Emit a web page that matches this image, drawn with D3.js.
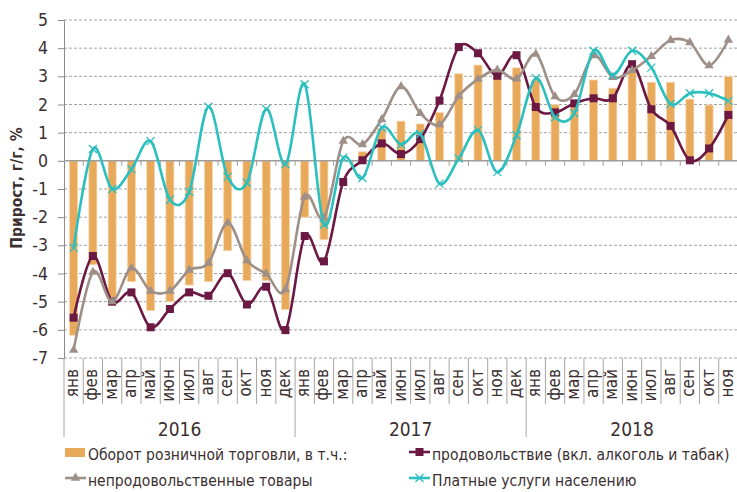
<!DOCTYPE html>
<html>
<head>
<meta charset="utf-8">
<title>Прирост, г/г</title>
<script src="https://cdn.jsdelivr.net/npm/d3@7"></script>
<style>
  body { margin: 0; background: #fff; }
  text { font-family: "DejaVu Sans", sans-serif; font-stretch: condensed; fill: #3b2f31; }
</style>
</head>
<body>
<script>
  let width = 737;
  let height = 492;

  let monthNames = ['янв', 'фев', 'мар', 'апр', 'май', 'июн', 'июл', 'авг', 'сен', 'окт', 'ноя', 'дек'];
  let years = ['2016', '2017', '2018'];
  let months = monthNames.concat(monthNames, monthNames.slice(0, 11));
  let yTicks = [-7, -6, -5, -4, -3, -2, -1, 0, 1, 2, 3, 4, 5];

  // оборот розничной торговли
  let retail = [-6.19, -3.69, -4.95, -4.29, -5.31, -5.0, -4.41, -4.29, -3.19, -4.25, -4.25, -5.28,
                -2.0, -2.8, 0.0, 0.32, 1.15, 1.41, 1.31, 1.71, 3.09, 3.40, 2.93, 3.30,
                2.87, 1.99, 2.08, 2.87, 2.58, 3.22, 2.79, 2.79, 2.19, 1.98, 2.99];
  // продовольствие
  let food = [-5.57, -3.38, -5.0, -4.67, -5.91, -5.26, -4.67, -4.79, -3.99, -5.1, -4.47, -6.01,
              -2.67, -3.57, -0.75, 0.02, 0.62, 0.24, 0.77, 2.14, 4.04, 3.82, 3.02, 3.75,
              1.91, 1.72, 2.04, 2.22, 2.22, 3.43, 1.83, 1.24, 0.02, 0.44, 1.63];
  // непродовольственные товары
  let nonfood = [-6.72, -3.95, -5.0, -3.81, -4.62, -4.62, -3.88, -3.63, -2.2, -3.54, -4.01, -4.57,
                 -1.28, -2.03, 0.70, 0.58, 1.47, 2.64, 1.69, 1.29, 2.30, 2.90, 3.23, 2.91,
                 3.79, 2.28, 2.36, 3.74, 2.97, 3.21, 3.71, 4.28, 4.20, 3.38, 4.29];
  // платные услуги
  let services = [-3.09, 0.42, -1.0, -0.3, 0.70, -1.38, -1.1, 1.92, -0.57, -0.78, 1.84, -0.12,
                  2.72, -2.26, 0.11, -0.61, 1.18, 0.58, 0.95, -0.81, 0.08, 1.09, -0.40, 0.91,
                  2.93, 1.55, 1.69, 3.91, 3.05, 3.91, 3.31, 2.02, 2.40, 2.40, 2.13];

  let cOrange = '#e9a95a';
  let cFood = '#6b1843';
  let cNonfood = '#9e9088';
  let cServ = '#2bbfbf';
  let cGrid = '#a3a3a3';

  let mLeft = 64, mRight = 738, mTop = 20, mBottom = 358;

  let svg = d3.select('body').append('svg')
    .attr('width', width)
    .attr('height', height);

  let x = d3.scaleBand()
    .domain(d3.range(months.length))
    .range([mLeft, mRight])
    .paddingInner(0.585)
    .paddingOuter(0.2925);
  let step = x.step();
  let cx = i => x(i) + x.bandwidth() / 2;

  let y = d3.scaleLinear()
    .domain([-7, 5])
    .range([mBottom, mTop]);

  // сетка
  svg.append('g').selectAll('line')
    .data(yTicks.filter(d => d !== 0))
    .enter().append('line')
    .attr('x1', mLeft).attr('x2', width)
    .attr('y1', d => y(d)).attr('y2', d => y(d))
    .attr('stroke', cGrid)
    .attr('stroke-width', 1)
    .attr('stroke-dasharray', '3,2');

  // столбцы
  svg.append('g').selectAll('rect')
    .data(retail)
    .enter().append('rect')
    .attr('x', (d, i) => x(i))
    .attr('width', x.bandwidth())
    .attr('y', d => y(Math.max(0, d)))
    .attr('height', d => Math.abs(y(d) - y(0)))
    .attr('fill', cOrange)
    .attr('stroke', '#f5d6ad')
    .attr('stroke-width', 0.8);

  // ось Y
  let yAxis = d3.axisLeft(y)
    .tickValues(yTicks)
    .tickSize(6)
    .tickPadding(10)
    .tickFormat(d => String(d));
  let yg = svg.append('g')
    .attr('transform', `translate(${mLeft},0)`)
    .call(yAxis);
  yg.select('.domain').attr('stroke', '#8e8a8a');
  yg.selectAll('.tick line').attr('stroke', '#8e8a8a');
  yg.selectAll('.tick text')
    .attr('font-size', 17.5)
    .attr('fill', '#3b2f31')
    .attr('font-family', '"DejaVu Sans", sans-serif');

  // нулевая ось с делениями
  svg.append('line')
    .attr('x1', mLeft).attr('x2', width)
    .attr('y1', y(0)).attr('y2', y(0))
    .attr('stroke', '#a09c9c').attr('stroke-width', 1.5);
  svg.append('g').selectAll('line')
    .data(d3.range(1, months.length + 1))
    .enter().append('line')
    .attr('x1', i => mLeft + i * step).attr('x2', i => mLeft + i * step)
    .attr('y1', y(0)).attr('y2', y(0) + 5)
    .attr('stroke', '#a09c9c');

  // разделители подписей
  svg.append('g').selectAll('line')
    .data(d3.range(0, months.length + 1))
    .enter().append('line')
    .attr('x1', i => mLeft + i * step).attr('x2', i => mLeft + i * step)
    .attr('y1', mBottom)
    .attr('y2', i => (i % 12 === 0 ? 437 : 404))
    .attr('stroke', '#a8a4a4');

  // месяцы
  svg.append('g').selectAll('text')
    .data(months)
    .enter().append('text')
    .attr('transform', (d, i) => `translate(${cx(i) + 4.5},369) rotate(-90)`)
    .attr('text-anchor', 'end')
    .attr('font-size', 17)
    .text(d => d);

  // годы
  svg.append('g').selectAll('text')
    .data(years)
    .enter().append('text')
    .attr('x', (d, i) => {
      let a = mLeft + i * 12 * step;
      let b = Math.min(mLeft + (i + 1) * 12 * step, mLeft + months.length * step);
      return (a + b) / 2;
    })
    .attr('y', 436)
    .attr('text-anchor', 'middle')
    .attr('font-size', 19)
    .text(d => d);

  // заголовок оси
  svg.append('text')
    .attr('transform', 'translate(22,188) rotate(-90)')
    .attr('text-anchor', 'middle')
    .attr('font-size', 15.5)
    .attr('font-weight', 'bold')
    .text('Прирост, г/г, %');

  // линии
  let line = d3.line()
    .x((d, i) => cx(i))
    .y(d => y(d))
    .curve(d3.curveCardinal.tension(0));

  function drawSeries(data, color, marker) {
    svg.append('path')
      .datum(data)
      .attr('d', line)
      .attr('fill', 'none')
      .attr('stroke', color)
      .attr('stroke-width', 2.6);
    let g = svg.append('g');
    data.forEach((d, i) => marker(g, cx(i), y(d), color));
  }

  function square(g, px, py, color) {
    g.append('rect')
      .attr('x', px - 4).attr('y', py - 4)
      .attr('width', 8).attr('height', 8)
      .attr('fill', color);
  }
  function triangle(g, px, py, color) {
    g.append('path')
      .attr('d', d3.symbol(d3.symbolTriangle, 38)())
      .attr('transform', `translate(${px},${py})`)
      .attr('fill', color);
  }
  function cross(g, px, py, color) {
    g.append('path')
      .attr('d', 'M-4,-4L4,4M-4,4L4,-4')
      .attr('transform', `translate(${px},${py})`)
      .attr('stroke', color)
      .attr('stroke-width', 1.3)
      .attr('fill', 'none');
  }

  drawSeries(food, cFood, square);
  drawSeries(nonfood, cNonfood, triangle);
  drawSeries(services, cServ, cross);

  // легенда
  let lg = svg.append('g');
  lg.append('rect')
    .attr('x', 65).attr('y', 448).attr('width', 20).attr('height', 9)
    .attr('fill', cOrange);
  lg.append('text').attr('x', 88).attr('y', 460).attr('font-size', 15.5)
    .text('Оборот розничной торговли, в т.ч.:');

  function legendLine(lx, ly, color, marker, label) {
    lg.append('line')
      .attr('x1', lx).attr('x2', lx + 21)
      .attr('y1', ly).attr('y2', ly)
      .attr('stroke', color).attr('stroke-width', 2.6);
    marker(lg, lx + 10.5, ly, color);
    lg.append('text').attr('x', lx + 23).attr('y', ly + 8).attr('font-size', 15.5)
      .text(label);
  }
  legendLine(409, 452, cFood, square, 'продовольствие (вкл. алкоголь и табак)');
  legendLine(65, 478, cNonfood, triangle, 'непродовольственные товары');
  legendLine(409, 478, cServ, cross, 'Платные услуги населению');
</script>
</body>
</html>
